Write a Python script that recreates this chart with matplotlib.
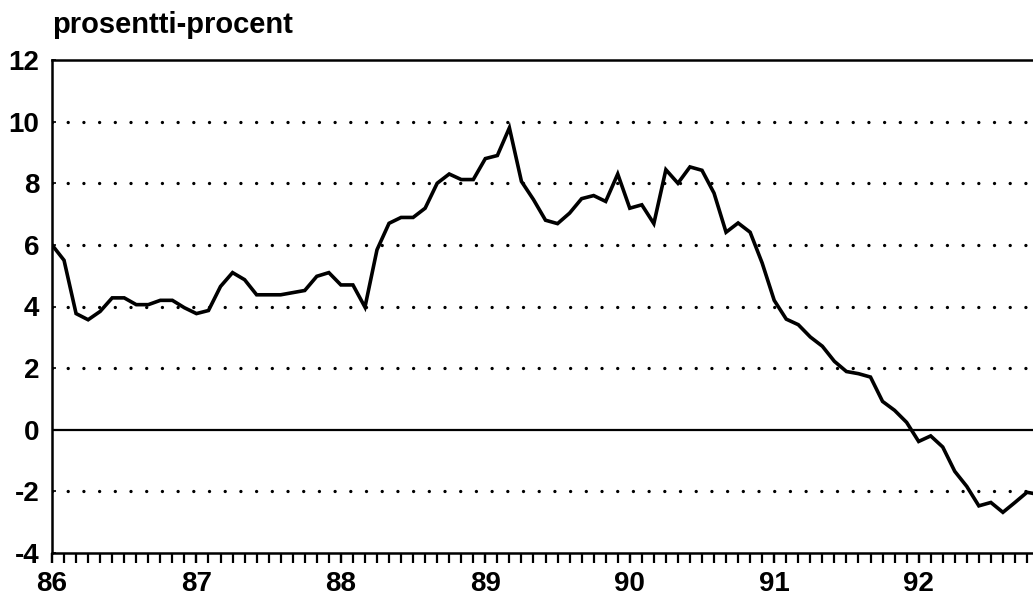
import matplotlib.pyplot as plt
import numpy as np

# monthly values, Jan 1986 onwards
values = [
    6.0, 5.5, 3.77, 3.57, 3.84, 4.28, 4.28, 4.06, 4.06, 4.2, 4.2, 3.96,
    3.77, 3.87, 4.65, 5.1, 4.87, 4.38, 4.38, 4.38, 4.45, 4.52, 4.98, 5.1,
    4.7, 4.7, 3.98, 5.84, 6.7, 6.89, 6.89, 7.19, 8.0, 8.3, 8.12, 8.12,
    8.8, 8.9, 9.8, 8.06, 7.47, 6.8, 6.69, 7.03, 7.5, 7.6, 7.41, 8.3,
    7.19, 7.3, 6.69, 8.44, 8.0, 8.53, 8.42, 7.68, 6.41, 6.71, 6.41, 5.41,
    4.2, 3.59, 3.41, 3.01, 2.71, 2.22, 1.89, 1.82, 1.71, 0.92, 0.63, 0.24,
    -0.38, -0.2, -0.56, -1.35, -1.84, -2.47, -2.36, -2.68, -2.36, -2.03, -2.1,
]
year_labels = ["86", "87", "88", "89", "90", "91", "92"]
y_ticks = [-4, -2, 0, 2, 4, 6, 8, 10, 12]
dotted_levels = [-2, 2, 4, 6, 8, 10]

plt.rcParams["font.family"] = ["Liberation Sans", "DejaVu Sans"]

fig = plt.figure(figsize=(10.33, 6.05), dpi=100)
ax = fig.add_axes([52 / 1033, 52 / 605, 1 - 52 / 1033, 493 / 605])

months = np.arange(len(values))
ax.plot(months, values, color="black", lw=2.6, solid_joinstyle="miter", zorder=3)

for lev in dotted_levels:
    ax.axhline(lev, color="black", lw=2.4, linestyle=(0, (0.01, 4.7)),
               dash_capstyle="round", zorder=1)
ax.axhline(0, color="black", lw=1.6, zorder=2)

ax.set_xlim(0, 81.5)
ax.set_ylim(-4, 12)

ax.set_xticks(np.arange(len(year_labels)) * 12)
ax.set_xticklabels(year_labels, fontsize=20, fontweight="bold")
ax.set_xticks(np.arange(0, 82), minor=True)
ax.xaxis.remove_overlapping_locs = False
ax.tick_params(axis="x", which="both", direction="out", length=7, width=1.6)
ax.tick_params(axis="x", which="major", pad=6)

ax.set_yticks(y_ticks)
ax.set_yticklabels([str(v) for v in y_ticks], fontsize=20, fontweight="bold")
ax.tick_params(axis="y", direction="in", length=3, width=1.2, pad=9)

for side in ["left", "bottom", "top"]:
    ax.spines[side].set_linewidth(1.8)
ax.spines["right"].set_visible(False)

fig.text(52 / 1033, 1 - 33 / 605, "prosentti-procent", fontsize=21,
         fontweight="bold", ha="left", va="baseline")

fig.savefig("out.png", dpi=100)
